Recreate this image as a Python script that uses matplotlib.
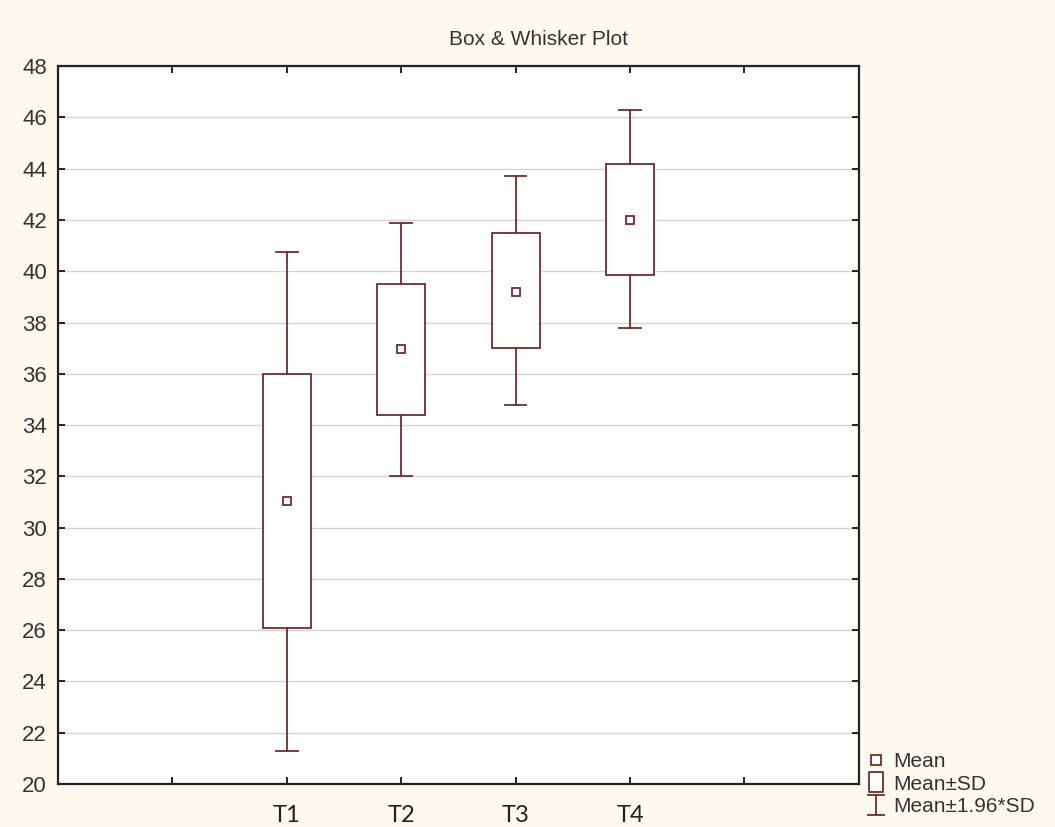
import matplotlib
matplotlib.use("Agg")
import matplotlib.pyplot as plt
from matplotlib.lines import Line2D
from matplotlib.path import Path

## values
groups = ["T1", "T2", "T3", "T4"]
means = [31.05, 36.95, 39.2, 42.0]
sd_low = [26.1, 34.4, 37.0, 39.85]
sd_high = [36.0, 39.5, 41.5, 44.2]
ci_low = [21.3, 32.0, 34.8, 37.8]
ci_high = [40.75, 41.9, 43.7, 46.3]
positions = [2, 3, 4, 5]
xtick_pos = [1, 2, 3, 4, 5, 6]
xtick_labels = [""] + groups + [""]

dark = "#6E2E2E"
bg = "#FFFAF0"
lw = 1.3

stats = []
for g, m, lo, hi, wlo, whi in zip(groups, means, sd_low, sd_high, ci_low, ci_high):
    stats.append(dict(label=g, mean=m, med=m, q1=lo, q3=hi,
                      whislo=wlo, whishi=whi, fliers=[]))

fig = plt.figure(figsize=(10.55, 8.27), dpi=100, facecolor=bg)
ax = fig.add_axes([0.055, 0.052, 0.759, 0.868])
ax.set_facecolor("white")

ax.bxp(stats, positions=positions, widths=0.42, capwidths=0.19,
       showmeans=True, showfliers=False, patch_artist=True,
       boxprops=dict(facecolor="white", edgecolor=dark, linewidth=lw),
       whiskerprops=dict(color=dark, linewidth=lw),
       capprops=dict(color=dark, linewidth=lw),
       medianprops=dict(linewidth=0),
       meanprops=dict(marker="s", markersize=6, markerfacecolor="white",
                      markeredgecolor=dark, markeredgewidth=1.3))

ax.set_xlim(0, 7)
ax.set_ylim(20, 48)
ax.set_yticks(range(20, 49, 2))
ax.set_xticks(xtick_pos)
ax.set_xticklabels(xtick_labels, family="Lato", fontsize=17, color="#222222")
ax.tick_params(direction="in", length=5, width=1.2, top=True, right=True)
ax.tick_params(axis="y", labelsize=16, labelcolor="#333333", pad=8)
for lab in ax.get_yticklabels():
    lab.set_family("Liberation Sans")
ax.tick_params(axis="x", pad=15)
ax.yaxis.grid(True, color="#D4D4D4", linewidth=1.0)
ax.set_axisbelow(True)
for s in ax.spines.values():
    s.set_linewidth(1.6)
    s.set_color("#222222")

fig.text(0.51, 0.952, "Box & Whisker Plot", ha="center", va="center",
         fontsize=15, family="Liberation Sans", color="#333333")

## legend handles
rect_path = Path([(-0.35, -0.5), (0.35, -0.5), (0.35, 0.5), (-0.35, 0.5), (-0.35, -0.5)],
                 [Path.MOVETO, Path.LINETO, Path.LINETO, Path.LINETO, Path.CLOSEPOLY])
ibeam_path = Path([(-0.45, 0.5), (0.45, 0.5), (0, 0.5), (0, -0.5), (-0.45, -0.5), (0.45, -0.5)],
                  [Path.MOVETO, Path.LINETO, Path.MOVETO, Path.LINETO, Path.MOVETO, Path.LINETO])
handles = [
    Line2D([], [], ls="none", marker="s", ms=7, mfc="white", mec=dark, mew=1.3),
    Line2D([], [], ls="none", marker=rect_path, ms=15, mfc="white", mec=dark, mew=1.3),
    Line2D([], [], ls="none", marker=ibeam_path, ms=15, mfc="none", mec=dark, mew=1.3),
]
leg = fig.legend(handles, ["Mean", "Mean\u00b1SD", "Mean\u00b11.96*SD"],
                 loc="lower left", bbox_to_anchor=(0.803, -0.0095), frameon=False,
                 handlelength=1.0, handletextpad=0.3, labelspacing=0.17,
                 prop={"family": "Liberation Sans", "size": 15})
for t in leg.get_texts():
    t.set_color("#333333")

fig.savefig("out.png", dpi=100, facecolor=bg)
